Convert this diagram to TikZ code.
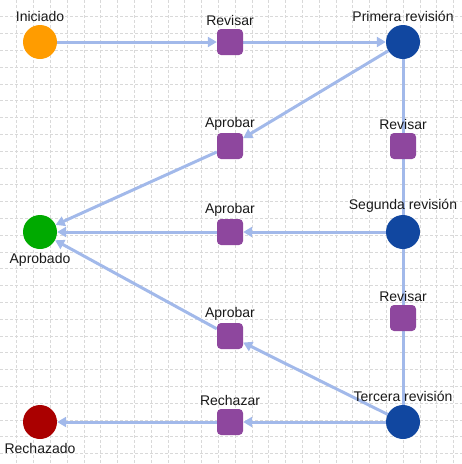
\documentclass[tikz,border=0pt]{standalone}
\usepackage{fontspec}
\setmainfont{Liberation Sans}
\usepackage{xcolor}
\usetikzlibrary{arrows.meta,positioning,backgrounds}

\definecolor{startorange}{HTML}{FF9C00}
\definecolor{okgreen}{HTML}{00AA00}
\definecolor{badred}{HTML}{AA0000}
\definecolor{revblue}{HTML}{1147A0}
\definecolor{actpurple}{HTML}{8E479E}
\definecolor{edgeblue}{HTML}{A2B9EA}

\begin{document}
\begin{tikzpicture}[x=1pt,y=-1pt,
    state/.style={circle,minimum size=34pt,inner sep=0pt},
    action/.style={rounded corners=4pt,fill=actpurple,minimum size=26pt,inner sep=0pt},
    flow/.style={draw=edgeblue,line width=3pt,-{Triangle[length=9pt,width=10pt]}},
    plain/.style={draw=edgeblue,line width=3pt},
    gridline/.style={gray!30,line width=0.7pt,dash pattern=on 2.5pt off 2.5pt},
    every label/.style={font=\fontsize{14}{16}\selectfont,text=black!90,inner sep=1pt},
    label distance=1.5pt]
    \useasboundingbox (0,0) rectangle (462,464);

    % states and actions
    \node[state,fill=startorange,label=above:Iniciado] (ini) at (40,42) {};
    \node[action,label=above:Revisar] (rev1) at (230,42) {};
    \node[state,fill=revblue,label=above:Primera revisión] (prim) at (403,42) {};
    \node[action,label=above:Aprobar] (apr1) at (230,146) {};
    \node[action,label=above:Revisar] (rev2) at (403,146) {};
    \node[state,fill=okgreen,label={[label distance=3pt]below:Aprobado}] (ok) at (40,232) {};
    \node[action,label=above:Aprobar] (apr2) at (230,232) {};
    \node[state,fill=revblue,label=above:Segunda revisión] (seg) at (403,232) {};
    \node[action,label=above:Aprobar] (apr3) at (230,336) {};
    \node[action,label=above:Revisar] (rev3) at (403,318) {};
    \node[state,fill=badred,label={[label distance=3pt]below:Rechazado}] (bad) at (40,422) {};
    \node[action,label=above:Rechazar] (rech) at (230,422) {};
    \node[state,fill=revblue,label=above:Tercera revisión] (ter) at (403,422) {};

    \begin{scope}[on background layer]
        \foreach \k in {1,...,27} {
            \draw[gridline] (\k*16.8,0) -- (\k*16.8,464);
            \draw[gridline] (0,\k*16.8) -- (462,\k*16.8);
        }

        \draw[flow] (ini) -- (rev1);
        \draw[flow] (rev1) -- (prim);
        \draw[flow] (prim) -- (apr1);
        \draw[plain] (prim) -- (rev2);
        \draw[flow] (apr1) -- (ok);
        \draw[plain] (rev2) -- (seg);
        \draw[flow] (seg) -- (apr2);
        \draw[flow] (apr2) -- (ok);
        \draw[plain] (seg) -- (rev3);
        \draw[plain] (rev3) -- (ter);
        \draw[flow] (ter) -- (apr3);
        \draw[flow] (apr3) -- (ok);
        \draw[flow] (ter) -- (rech);
        \draw[flow] (rech) -- (bad);
    \end{scope}
\end{tikzpicture}
\end{document}
